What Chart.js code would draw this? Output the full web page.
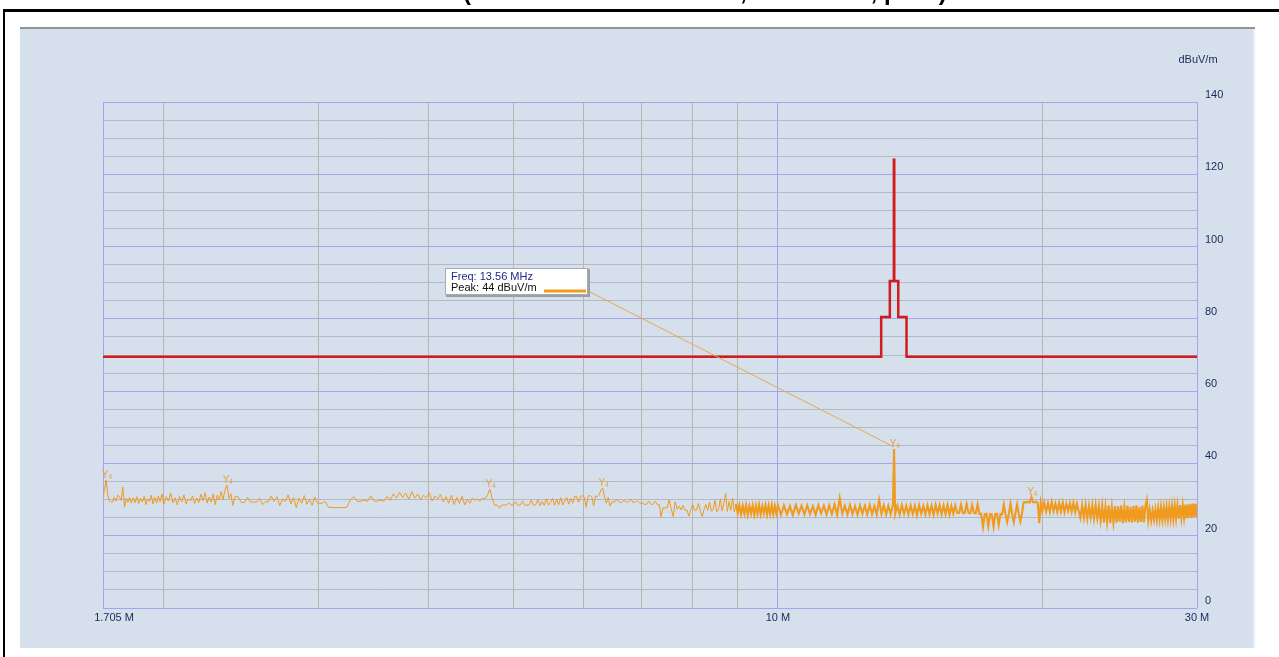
<!DOCTYPE html>
<html><head><meta charset="utf-8">
<script src="https://cdn.jsdelivr.net/npm/chart.js@4.4.1/dist/chart.umd.min.js"></script>
<style>html,body{margin:0;padding:0;background:#fff;overflow:hidden}canvas{display:block}</style>
</head><body><canvas id="c" width="1279" height="657"></canvas>
<script>
// ---------------- DATA ----------------
const titleText = '(Radiated Emission Test, Horizontal, peak)';
const unitText = 'dBuV/m';
const xGridMHz = [1.705, 2, 3, 4, 5, 6, 7, 8, 9, 10, 20, 30];
const xLabelMHz = [1.705, 10, 30];
const xLabelText = ['\u2003\u20031.705 M', '10 M', '30 M'];
const yGrid = [0,5,10,15,20,25,30,35,40,45,50,55,60,65,70,75,80,85,90,95,100,105,110,115,120,125,130,135,140];
const yLabelVals = [0,20,40,60,80,100,120,140];

const limitFreq  = [1.705, 13.11, 13.11, 13.41, 13.41, 13.553, 13.553, 13.567, 13.567, 13.71, 13.71, 14.01, 14.01, 30];
const limitLevel = [69.5, 69.5, 80.5, 80.5, 90.5, 90.5, 124, 124, 90.5, 90.5, 80.5, 80.5, 69.5, 69.5];

const traceFreq = [
  // 1.705 - 2.0
  1.705,1.712,1.719,1.726,1.733,1.740,1.748,1.756,1.764,1.772,
  1.780,1.788,1.796,1.804,1.812,1.820,1.828,1.836,1.845,1.854,
  1.863,1.872,1.881,1.890,1.899,1.908,1.917,1.926,1.935,1.944,
  1.953,1.962,1.971,1.980,1.990,2.000,
  // 2.0 - 2.4
  2.012,2.024,2.036,2.048,2.060,2.072,2.084,2.096,2.108,2.120,
  2.132,2.144,2.156,2.168,2.180,2.192,2.204,2.216,2.228,2.240,
  2.252,2.264,2.276,2.288,2.300,2.312,2.324,2.336,2.348,2.360,
  2.372,2.384,2.396,
  // 2.4 - 3.0
  2.41,2.43,2.45,2.47,2.49,2.51,2.53,2.55,2.57,2.59,
  2.61,2.63,2.65,2.67,2.69,2.71,2.73,2.75,2.77,2.79,
  2.81,2.83,2.85,2.87,2.89,2.91,2.93,2.95,2.97,2.99,
  // 3.0 - 3.75
  3.02,3.05,3.08,3.11,3.14,3.17,3.20,3.23,3.26,3.29,
  3.32,3.35,3.38,3.41,3.44,3.47,3.50,3.53,3.56,3.59,
  3.62,3.65,3.68,3.71,3.74,
  // 3.75 - 5.0
  3.77,3.80,3.83,3.86,3.89,3.92,3.95,3.98,4.01,4.04,
  4.07,4.10,4.13,4.16,4.19,4.22,4.25,4.28,4.31,4.34,
  4.37,4.40,4.43,4.46,4.49,4.52,4.55,4.58,4.61,4.64,
  4.67,4.70,4.73,4.76,4.79,4.82,4.85,4.88,4.91,4.94,
  4.97,
  // 5.0 - 5.85
  5.00,5.03,5.06,5.09,5.12,5.15,5.18,5.21,5.24,5.27,
  5.30,5.33,5.36,5.39,5.42,5.45,5.48,5.51,5.54,5.57,
  5.60,5.63,5.66,5.69,5.72,5.75,5.78,5.81,5.84,
  // 5.87 - 6.44
  5.87,5.90,5.93,5.96,5.99,6.02,6.05,6.08,6.11,6.14,
  6.17,6.20,6.23,6.26,6.29,6.32,6.35,6.38,6.41,6.44,
  // 6.48 - 7.0
  6.48,6.52,6.56,6.60,6.64,6.68,6.72,6.76,6.80,6.84,
  6.88,6.92,6.96,7.00,
  // 7.05 - 7.72
  7.05,7.09,7.13,7.17,7.21,7.25,7.29,7.33,7.36,7.40,
  7.44,7.48,7.52,7.56,7.60,7.64,7.68,7.72,
  // 7.76 - 8.96
  7.76,7.80,7.84,7.88,7.92,7.96,8.00,8.04,8.08,8.12,
  8.16,8.20,8.24,8.28,8.32,8.36,8.40,8.44,8.48,8.52,
  8.56,8.60,8.64,8.68,8.72,8.76,8.80,8.84,8.88,8.92,
  8.96,
  // 9.0 - 10.0
  9.00,9.04,9.08,9.12,9.16,9.20,9.24,9.28,9.32,9.36,
  9.40,9.44,9.48,9.52,9.56,9.60,9.64,9.68,9.72,9.76,
  9.80,9.84,9.88,9.92,9.96,10.00,
  // 10 - 13.52
  10.08,10.16,10.24,10.32,10.40,10.48,10.56,10.64,10.72,10.80,
  10.88,10.96,11.04,11.12,11.20,11.28,11.36,11.44,11.52,11.60,
  11.68,11.76,11.84,11.92,12.00,12.08,12.16,12.24,12.32,12.40,
  12.48,12.56,12.64,12.72,12.80,12.88,12.96,13.04,13.12,13.20,
  13.28,13.36,13.44,13.52,
  // 13.56 carrier
  13.56,
  // 13.6 - 20.0
  13.60,13.68,13.76,13.84,13.92,14.00,14.08,14.16,14.24,14.32,
  14.40,14.48,14.56,14.64,14.72,14.80,14.88,14.96,15.04,15.12,
  15.20,15.28,15.36,15.44,15.52,15.60,15.68,15.76,15.84,15.92,
  16.00,16.08,16.16,16.24,16.32,16.40,16.48,16.56,16.64,16.72,
  16.80,16.88,16.96,17.04,17.12,17.20,17.28,17.36,17.44,17.52,
  17.60,17.68,17.76,17.84,17.92,18.00,18.08,18.16,18.24,18.32,
  18.40,18.48,18.56,18.64,18.72,18.80,18.88,18.96,19.04,19.12,
  19.20,19.28,19.36,19.44,19.52,19.60,19.68,19.76,19.84,19.92,
  20.00,
  // 20.1 - 22.0
  20.1,20.2,20.3,20.4,20.5,20.6,20.7,20.8,20.9,21.0,
  21.1,21.2,21.3,21.4,21.5,21.6,21.7,21.8,21.9,22.0,
  // 22.1 - 30.0
  22.1,22.2,22.3,22.4,22.5,22.6,22.7,22.8,22.9,23.0,
  23.1,23.2,23.3,23.4,23.5,23.6,23.7,23.8,23.9,24.0,
  24.1,24.2,24.3,24.4,24.5,24.6,24.7,24.8,24.9,25.0,
  25.1,25.2,25.3,25.4,25.5,25.6,25.7,25.8,25.9,26.0,
  26.1,26.2,26.3,26.4,26.5,26.6,26.7,26.8,26.9,27.0,
  27.1,27.2,27.3,27.4,27.5,27.6,27.7,27.8,27.9,28.0,
  28.1,28.2,28.3,28.4,28.5,28.6,28.7,28.8,28.9,29.0,
  29.1,29.2,29.3,29.4,29.5,29.6,29.7,29.8,29.9,30.0
];

const traceLevel = [
  // 1.705 - 2.0
  30.5,33.0,35.4,31.5,29.8,29.3,29.3,30.6,29.6,31.2,
  30.8,29.8,33.4,27.9,30.4,29.2,30.6,29.0,30.5,29.1,
  30.8,28.9,30.4,29.3,30.9,28.6,30.2,29.5,31.2,28.8,
  30.6,29.0,31.0,29.4,31.6,28.7,
  // 2.0 - 2.4
  30.8,29.6,31.8,29.1,30.5,28.5,30.9,29.4,31.3,28.8,
  30.2,29.6,31.0,28.9,30.4,29.2,31.5,29.7,31.9,29.0,
  30.7,29.3,31.6,28.6,31.2,29.9,32.2,30.0,32.8,34.0,
  30.3,31.6,28.4,
  // 2.4 - 3.0
  30.8,30.8,29.2,29.2,30.6,29.3,29.3,29.3,30.4,28.6,
  29.4,29.4,31.0,29.5,30.8,28.3,30.2,29.5,31.3,28.8,
  30.6,27.8,30.4,29.0,31.1,28.7,30.0,28.4,30.7,29.1,
  // 3.0 - 3.75
  28.9,29.5,27.9,27.8,27.8,27.8,27.8,27.8,29.9,30.8,
  29.5,29.5,29.9,29.5,31.0,29.6,29.6,29.8,29.6,30.9,
  29.8,31.6,30.4,32.0,30.6,
  // 3.75 - 5.0
  31.8,30.1,32.2,30.4,31.5,30.0,31.2,30.5,31.9,29.6,
  31.0,30.2,31.4,29.4,30.8,29.0,31.2,28.6,30.6,28.9,
  30.9,28.5,30.1,29.0,30.4,29.8,30.1,29.6,30.4,30.2,
  31.2,32.9,30.2,28.4,28.5,27.6,28.5,28.5,28.5,29.1,
  28.5,
  // 5.0 - 5.85
  28.5,29.4,28.4,28.5,29.6,28.4,28.5,28.5,29.9,28.4,
  28.6,30.0,28.3,29.5,28.4,30.2,28.5,29.2,30.4,28.4,
  30.1,28.6,30.5,28.5,29.8,30.6,28.7,30.3,29.0,
  // 5.87 - 6.44
  30.9,30.9,29.2,30.8,31.1,30.7,27.9,30.9,31.2,30.6,
  28.3,31.0,30.8,31.3,32.7,33.2,30.5,29.0,30.6,28.2,
  // 6.48 - 7.0
  29.4,29.3,30.1,29.3,29.2,29.8,29.3,29.3,30.2,29.2,
  29.3,29.6,29.1,29.0,
  // 7.05 - 7.72
  28.7,28.7,29.6,28.7,28.7,29.5,28.6,28.6,25.2,27.7,
  27.7,27.7,29.9,27.5,25.3,29.4,27.3,28.2,
  // 7.76 - 8.96
  27.1,28.4,27.0,27.1,25.4,27.2,28.6,27.0,27.1,28.9,
  26.9,25.3,27.2,28.6,27.0,29.3,26.8,27.2,29.8,26.6,
  27.3,30.2,26.8,28.9,31.8,26.7,29.5,27.0,30.4,26.6,
  28.8,
  // 9.0 - 10.0
  26.2,28.4,25.9,28.3,26.0,28.5,25.8,28.2,26.1,28.4,
  25.7,28.3,26.0,28.5,25.9,28.2,26.2,28.4,25.8,28.3,
  26.0,28.5,25.9,28.2,26.1,28.4,
  // 10 - 13.52
  25.8,28.4,26.0,28.2,25.7,28.5,26.1,28.3,25.9,28.4,
  26.0,28.2,25.8,28.5,26.2,28.3,25.9,28.4,26.0,28.6,
  25.8,30.4,26.1,28.3,25.9,28.5,26.0,28.2,25.8,28.4,
  26.1,28.3,25.9,28.5,26.0,28.2,25.8,29.9,26.1,28.4,
  25.9,28.3,26.0,28.5,
  // 13.56 carrier
  44.0,
  // 13.6 - 20.0
  26.0,28.3,25.8,28.5,26.1,28.2,25.9,28.4,26.0,28.3,
  25.7,28.5,26.1,28.2,25.9,28.4,26.0,28.3,25.8,28.5,
  26.2,28.4,25.9,28.3,26.0,28.5,25.8,28.2,26.1,28.4,
  26.3,26.3,28.6,26.2,26.3,28.8,26.3,26.2,28.5,26.3,
  26.2,28.7,26.0,26.1,22.4,26.0,26.1,22.6,26.0,25.9,
  22.5,26.0,26.1,23.0,26.0,25.9,28.6,26.0,23.8,26.1,
  28.8,26.0,23.8,26.2,28.6,26.1,24.0,26.0,29.2,29.3,
  29.2,29.4,29.2,30.7,29.3,29.2,29.4,29.1,23.5,29.2,
  26.8,
  // 20.1 - 22.0
  29.2,26.7,29.0,26.6,29.3,26.8,28.9,26.6,29.1,26.7,
  29.2,26.6,28.8,26.9,29.0,26.7,29.1,26.6,28.9,26.8,
  // 22.1 - 30.0
  24.9,28.4,25.0,28.5,24.8,28.3,25.1,28.4,24.7,28.5,
  24.9,28.2,24.2,28.3,23.6,28.0,23.8,28.4,23.5,27.9,
  23.7,28.2,23.6,28.1,23.9,28.4,23.5,27.8,23.7,28.3,
  23.8,28.0,23.6,28.2,23.9,28.4,23.6,27.9,23.8,28.3,
  23.7,28.1,29.9,24.3,27.2,24.2,27.0,24.4,27.3,24.3,
  27.7,24.5,27.9,24.4,27.8,24.6,28.0,24.5,28.1,24.7,
  28.2,24.6,28.3,24.8,28.4,24.7,28.5,24.9,28.4,25.0,
  28.6,24.8,28.7,25.1,28.8,25.0,28.9,25.2,28.8,25.1
];

const markerFreq  = [1.719, 2.360, 4.70, 6.32, 13.56, 19.44];
const markerLevel = [35.4, 34.0, 32.9, 33.2, 44.0, 30.7];
const peakFreq = 13.56;
const peakLevel = 44;
const denseFromMHz = 8.96;

// ---------------- STYLE ----------------
const W = 1279, H = 657;
const PLOT = {left: 103, top: 102, right: 1197, bottom: 608};
const BLUE = '#a3a3ef', GRAY_H = '#b6b9c4', GRAY_V = '#bbb3ad', LABEL = '#1c2658';
const ORANGE = '#f09a1e';
const FONT = '"Liberation Sans", Arial, sans-serif';

const deco = {
  id: 'deco',
  beforeDraw(chart) {
    const c = chart.ctx;
    c.save();
    c.fillStyle = '#ffffff'; c.fillRect(0, 0, W, H);
    // page title (cut at top)
    c.fillStyle = '#000'; c.font = 'bold 24px ' + FONT; c.textAlign = 'left'; c.textBaseline = 'alphabetic';
    c.fillText(titleText, 463, 0);
    // black frame
    c.fillRect(3, 9, W - 3, 3);
    c.fillRect(3, 9, 2, H - 9);
    // panel
    c.fillStyle = '#d6e0ec'; c.fillRect(20, 27, 1235, 621);
    c.fillStyle = '#8f959d'; c.fillRect(20, 27, 1235, 2);
    c.fillStyle = '#e9eef4'; c.fillRect(1253, 29, 2, 619);
    // unit
    c.fillStyle = LABEL; c.font = '11px ' + FONT; c.textAlign = 'center'; c.textBaseline = 'middle';
    c.fillText(unitText, 1198, 60);
    c.restore();
  },
  afterDatasetsDraw(chart) {
    const c = chart.ctx, xs = chart.scales.x, ys = chart.scales.y;
    c.save();
    // markers
    c.fillStyle = '#e3a447'; c.textBaseline = 'alphabetic';
    markerFreq.forEach((f, i) => {
      const px = xs.getPixelForValue(f), py = ys.getPixelForValue(markerLevel[i]);
      c.font = '10px ' + FONT; c.textAlign = 'center';
      c.fillText('Y', px - 1, py - 2);
      c.font = '7px ' + FONT;
      c.fillText('4', px + 4, py - 1);
    });
    // connector
    const bx = 445, by = 268, bw = 143, bh = 27;
    const ppx = xs.getPixelForValue(peakFreq), ppy = ys.getPixelForValue(peakLevel);
    c.strokeStyle = '#e9a84c'; c.lineWidth = 1;
    c.beginPath(); c.moveTo(bx + bw, by + 23); c.lineTo(ppx, ppy - 2); c.stroke();
    // box
    c.fillStyle = '#9aa0a8'; c.fillRect(bx + 1, by + 1, bw + 1, bh + 1);
    c.fillStyle = '#ffffff'; c.fillRect(bx, by, bw, bh);
    c.strokeStyle = '#a8acb2'; c.strokeRect(bx + 0.5, by + 0.5, bw - 1, bh - 1);
    c.font = '11px ' + FONT; c.textAlign = 'left'; c.textBaseline = 'middle';
    c.fillStyle = '#1d2c8a'; c.fillText('Freq: ' + peakFreq + ' MHz', bx + 6, by + 9);
    c.fillStyle = '#111'; c.fillText('Peak: ' + peakLevel + ' ' + unitText, bx + 6, by + 20);
    c.strokeStyle = ORANGE; c.lineWidth = 3;
    c.beginPath(); c.moveTo(bx + 99, by + 23); c.lineTo(bx + 141, by + 23); c.stroke();
    c.restore();
  }
};

new Chart(document.getElementById('c'), {
  type: 'line',
  data: {
    datasets: [
      { data: traceFreq.map((f, i) => ({x: f, y: traceLevel[i]})), borderColor: ORANGE, borderWidth: 1,
        pointRadius: 0, tension: 0, fill: false, order: 2,
        segment: { borderWidth: ctx => ctx.p0.parsed.x >= denseFromMHz ? 2.1 : 1 } },
      { data: limitFreq.map((f, i) => ({x: f, y: limitLevel[i]})), borderColor: '#d11c1c', borderWidth: 2.5,
        pointRadius: 0, tension: 0, fill: false, order: 1 }
    ]
  },
  options: {
    responsive: false, animation: false, devicePixelRatio: 1, events: [],
    layout: {padding: {left: PLOT.left, top: PLOT.top, right: 0, bottom: 0}},
    plugins: {legend: {display: false}, tooltip: {enabled: false}},
    scales: {
      x: {
        type: 'logarithmic', min: 1.705, max: 30,
        afterBuildTicks(s) { s.ticks = xGridMHz.map(v => ({value: v})); },
        afterFit(s) { s.height = H - PLOT.bottom; },
        ticks: {
          autoSkip: false, maxRotation: 0, minRotation: 0, padding: 3, color: LABEL,
          font: {family: FONT, size: 11},
          callback(v) { const i = xLabelMHz.indexOf(v); return i >= 0 ? xLabelText[i] : ''; }
        },
        grid: {drawTicks: false, lineWidth: 1,
          color(ctx) { const v = ctx.tick ? ctx.tick.value : 0; return (v === 10 || v === 1.705 || v === 30) ? BLUE : GRAY_V; }},
        border: {display: false}
      },
      y: {
        type: 'linear', position: 'right', min: 0, max: 140,
        afterBuildTicks(s) { s.ticks = yGrid.map(v => ({value: v})); },
        afterFit(s) { s.width = W - PLOT.right; },
        ticks: {
          padding: 8, labelOffset: -7, color: LABEL, font: {family: FONT, size: 11},
          callback(v) { return yLabelVals.includes(v) ? String(v) : ''; }
        },
        grid: {drawTicks: false, lineWidth: 1,
          color(ctx) { const v = ctx.tick ? ctx.tick.value : 0; return yLabelVals.includes(v) ? BLUE : GRAY_H; }},
        border: {display: false}
      }
    }
  },
  plugins: [deco]
});
</script>
</body></html>
